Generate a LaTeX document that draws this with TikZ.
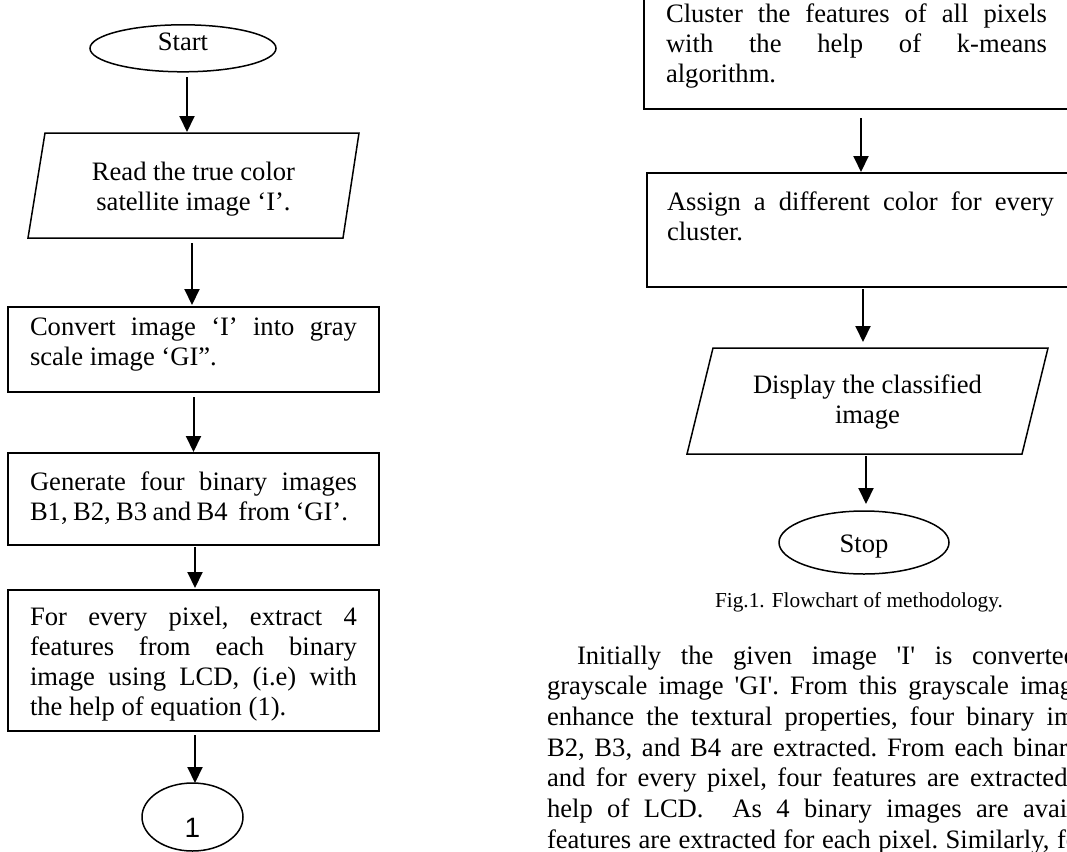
\documentclass[tikz,border=0pt]{standalone}
\usepackage{fontspec}
\newfontfamily\tnr{Liberation Serif}
\newfontfamily\arl{Liberation Sans}
\usetikzlibrary{calc,arrows.meta,shapes.geometric}
\newcommand\jl[1]{\makebox[\hsize][s]{\spaceskip=0pt\xspaceskip=0pt\relax #1}}
\tikzset{
  txt/.style={font=\tnr\fontsize{26.6}{30}\selectfont\frenchspacing, inner sep=0pt, outer sep=0pt},
  procbox/.style={txt, draw, line width=1.5pt, rectangle, align=flush left, inner ysep=0pt},
  iobox/.style={txt, rectangle, align=flush center},
  term/.style={txt, draw, line width=1.5pt, ellipse},
  shp/.style={line width=1.5pt, line join=miter},
  arr/.style={line width=2pt, -{Triangle[length=16pt,width=15pt]}},
  para/.style={txt, anchor=base west},
}
\begin{document}
\begin{tikzpicture}[x=1pt,y=-1pt]
\useasboundingbox (0,0) rectangle (1067,851);
\clip (0,0) rectangle (1067,851);

% ---------- left column ----------
\node[term, minimum width=186pt, minimum height=47pt, text height=14pt, text depth=8.6pt] (start) at (183,48.3) {Start};

\node[iobox, text width=300pt, minimum width=331pt, minimum height=105pt, text height=10pt, text depth=21pt] (read) at (193.5,185.5) {Read the true color\\satellite image ‘I’.};
\draw[shp] (read.south west) -- ([xshift=-16pt]read.south east) -- (read.north east) -- ([xshift=17pt]read.north west) -- cycle;

\node[procbox, text width=327pt, inner xsep=22pt, minimum width=371pt, minimum height=85pt, text height=10pt, text depth=39pt] (box1) at (193.5,349.5)
  {\jl{Convert image ‘I’ into gray}\\scale image ‘GI”.};

\node[procbox, text width=327pt, inner xsep=22pt, minimum width=371pt, minimum height=92pt, text height=10pt, text depth=28pt] (box2) at (193.5,499)
  {\jl{Generate four binary images}\\\makebox[318pt][s]{\spaceskip=5pt plus 20pt\relax B1, B2, B3 and B4\ \ from ‘GI’.}};

\node[procbox, text width=327pt, inner xsep=22pt, minimum width=371pt, minimum height=141pt, text height=10pt, text depth=81pt] (box3) at (193.5,660.5)
  {\jl{For every pixel, extract 4}\\\jl{features from each binary}\\\jl{image using LCD, (i.e) with}\\the help of equation (1).};

\node[term, font=\arl\fontsize{28}{30}\selectfont, minimum width=101pt, minimum height=68pt, text height=40pt, text depth=0pt] (one) at (192.5,817) {1};

\draw[arr] ($(start.south)+(4,5.5)$) -- ($(read.north)+(-6.5,-1)$);
\draw[arr] ($(read.south)+(-1.5,5)$) -- ($(box1.north)+(-1.5,-2)$);
\draw[arr] ($(box1.south)+(0,5)$) -- ($(box2.north)+(0,-1)$);
\draw[arr] ($(box2.south)+(1.5,2)$) -- ($(box3.north)+(1.5,-2)$);
\draw[arr] ($(box3.south)+(1.5,4)$) -- ($(one.north)+(2.5,0)$);

% ---------- right column ----------
\node[procbox, text width=381pt, inner xsep=22pt, minimum width=425pt, minimum height=123pt, text height=10pt, text depth=59.6pt] (clus) at (856.5,47.5)
  {\jl{Cluster the features of all pixels}\\\jl{with the help of k-means}\\algorithm.};

\node[procbox, text width=387pt, inner xsep=20pt, minimum width=427pt, minimum height=114pt, text height=10pt, text depth=50pt] (assign) at (860.5,230)
  {\jl{Assign a different color for every}\\cluster.};

\node[iobox, text width=330pt, minimum width=361pt, minimum height=106pt, text height=10pt, text depth=26pt] (disp) at (867.5,401) {Display the classified\\image};
\draw[shp] (disp.south west) -- ([xshift=-26pt]disp.south east) -- (disp.north east) -- ([xshift=26pt]disp.north west) -- cycle;

\node[term, minimum width=170pt, minimum height=63pt, text height=19pt, text depth=0pt] (stop) at (864,542.5) {Stop};

\draw[arr] ($(clus.south)+(4.5,9)$) -- ($(assign.north)+(0.5,-1)$);
\draw[arr] ($(assign.south)+(2.5,2)$) -- ($(disp.north)+(-4.5,-6)$);
\draw[arr] ($(disp.south)+(-1.5,2)$) -- ($(stop.north)+(2,-7)$);

\node[txt, font=\tnr\fontsize{21.3}{25}\selectfont, anchor=base] (cap) at (859,607.5) {Fig.1. Flowchart of methodology.};

% ---------- paragraph ----------
\node[para] (p1) at (577,664) {\makebox[500pt][s]{Initially the given image 'I' is converted}};
\node[para] (p2) at (547,694.7) {\makebox[538pt][s]{grayscale image 'GI'. From this grayscale image}};
\node[para] (p3) at (547,725.3) {\makebox[575pt][s]{enhance the textural properties, four binary images}};
\node[para] (p4) at (547,756) {\makebox[534pt][s]{B2, B3, and B4 are extracted. From each binary}};
\node[para] (p5) at (547,786.7) {\makebox[520.5pt][s]{and for every pixel, four features are extracted}};
\node[para] (p6) at (547,817.3) {\makebox[572pt][s]{help of LCD.\ \ As 4 binary images are available}};
\node[para] (p7) at (547,848) {\makebox[541pt][s]{features are extracted for each pixel. Similarly, for}};
\end{tikzpicture}
\end{document}
